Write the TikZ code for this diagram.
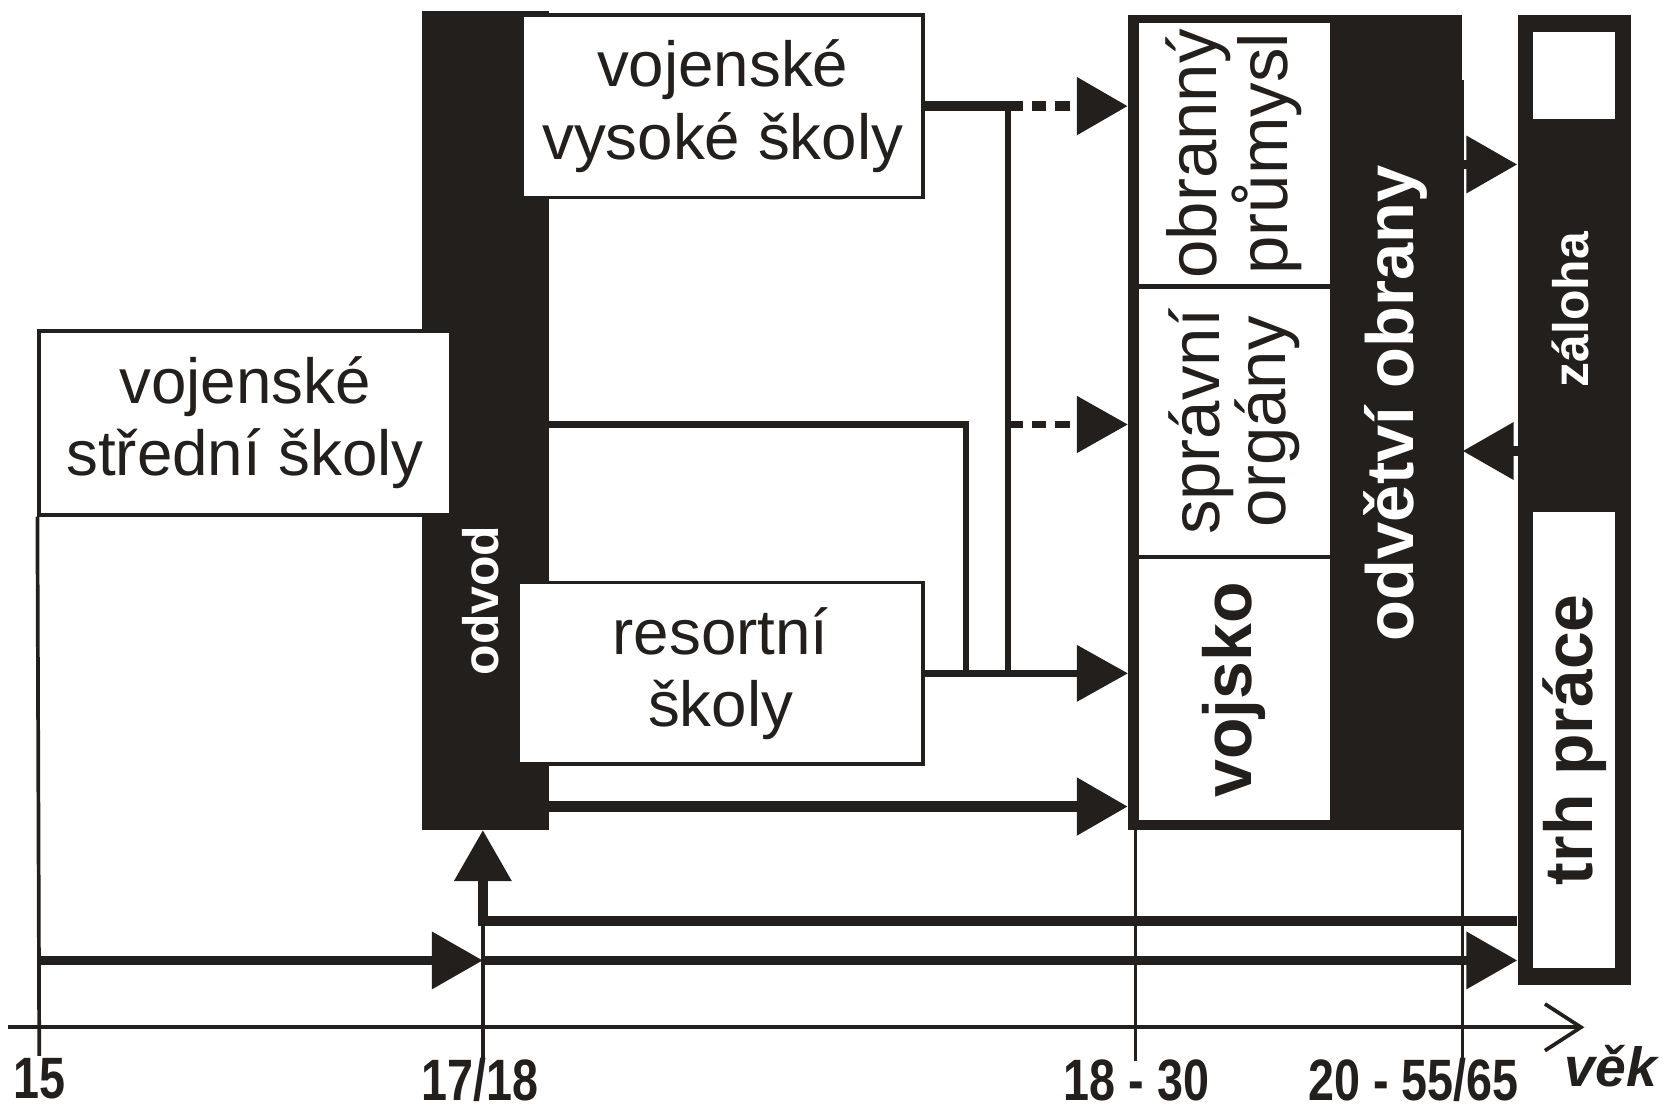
\documentclass[tikz,border=0pt]{standalone}
\usepackage{fontspec}
\setmainfont{Liberation Sans}
\newfontfamily\agefont[FakeStretch=0.8]{Liberation Sans}
\usepackage{tikz}
\usetikzlibrary{arrows.meta}
\definecolor{inkBlack}{HTML}{231F1C}

\begin{document}
\begin{tikzpicture}[x=1pt,y=-1pt,color=inkBlack,
  box/.style={draw,line width=3.5pt,fill=white,inner sep=0pt,align=center,
    font=\fontsize{60}{68}\selectfont},
  slab/.style={fill=inkBlack,inner sep=0pt},
  cell/.style={fill=white,inner sep=0pt},
  vtext/.style={rotate=90,align=center,inner sep=0pt},
  flow/.style={line width=9pt,-{Triangle[length=48pt,width=52pt]}},
  link/.style={line width=6pt},
  broken/.style={dash pattern=on 14pt off 8pt},
  tick/.style={line width=3.5pt},
  age/.style={font=\agefont\bfseries\fontsize{55}{55}\selectfont,inner sep=0pt}]
\useasboundingbox (0,0) rectangle (1568,1048);
% blocks
\node[slab,minimum width=119pt,minimum height=772pt] (odvod) at (457.5,396) {};
\node[box,minimum width=388pt,minimum height=173pt] (vss) at (231,398.5) {vojenské\\střední školy};
\node[box,minimum width=378pt,minimum height=172pt] (vvs) at (681,100) {vojenské\\vysoké školy};
\node[box,minimum width=382pt,minimum height=171pt] (res) at (679,634.5) {resortní\\školy};
\node[vtext,white,font=\bfseries\fontsize{47}{47}\selectfont] at (453,566) {odvod};
\node[slab,minimum width=315pt,minimum height=768pt] (branch) at (1220.5,398) {};
\node[cell,minimum width=180pt,minimum height=246pt] (obr) at (1163,145) {};
\node[cell,minimum width=180pt,minimum height=251pt] (spr) at (1163,397.5) {};
\node[cell,minimum width=180pt,minimum height=246pt] (voj) at (1163,650) {};
\node[vtext,font=\fontsize{65}{60}\selectfont] at (obr) {obranný\\průmysl};
\node[vtext,font=\fontsize{65}{60}\selectfont] at (spr) {správní\\orgány};
\node[vtext,font=\bfseries\fontsize{64}{64}\selectfont] at (voj) {vojsko};
\node[vtext,white,font=\bfseries\fontsize{63}{63}\selectfont] at (1315,380) {odvětví obrany};
\node[slab,minimum width=107pt,minimum height=914pt] (reserve) at (1483.5,471) {};
\node[cell,minimum width=77pt,minimum height=82pt] (rtop) at (1483.5,71) {};
\node[cell,minimum width=77pt,minimum height=430pt] (market) at (1483.5,697) {};
\node[vtext,white,font=\bfseries\fontsize{47}{47}\selectfont] at (1480,292) {záloha};
\node[vtext,font=\bfseries\fontsize{64}{64}\selectfont] at (market) {trh práce};
% connectors
\coordinate (vj) at (950,100);
\coordinate (oj) at (910,400);
\coordinate (dj) at (517,760);
\draw[line width=10pt] (vvs.east) -- (vj);
\draw[flow,line width=10pt,broken] (vj) -- (vj -| branch.west);
\draw[link] (vj) -- (vj |- res.east);
\draw[link] (odvod.east |- oj) -- (oj) -- (oj |- res.east);
\draw[flow,line width=7pt,broken] (vj |- oj) -- (oj -| branch.west);
\draw[flow,line width=6pt] (res.east) -- (res.east -| branch.west);
\draw[flow,line width=10pt] (dj) -- (dj -| branch.west);
\coordinate (rz) at (1378,155);
\coordinate (zr) at (1430,425);
\draw[flow] (rz) -- (rz -| reserve.west);
\draw[flow] (zr) -- (zr -| branch.east);
% time line
\coordinate (s15) at (37,905);
\coordinate (s17) at (455,905);
\coordinate (r17) at (455,868);
\draw[flow] (s15) -- (s17);
\draw[flow] (s17) -- (s17 -| reserve.west);
\draw[flow] (r17 -| reserve.west) -- (r17) -- (r17 |- odvod.south);
\coordinate (axL) at (8,968);
\coordinate (axR) at (1493,968);
\draw[tick,-{Straight Barb[length=34pt,width=44pt]}] (axL) -- (axR);
\draw[tick] (vss.south west) -- (37,995);
\draw[tick] (r17) -- (455,1000);
\draw[tick] (1070,782) -- (1070,1000);
\draw[tick] (1378,75) -- (1378,1000);
\node[age] (a15) at (37,1016) {15};
\node[age] (a17) at (452,1018) {17/18};
\node[age] (a18) at (1071,1018) {18 - 30};
\node[age] (a20) at (1332,1018) {20 - 55/65};
\node[age,font=\bfseries\itshape\fontsize{52}{52}\selectfont] (vek) at (1518,1005) {věk};
\end{tikzpicture}
\end{document}
